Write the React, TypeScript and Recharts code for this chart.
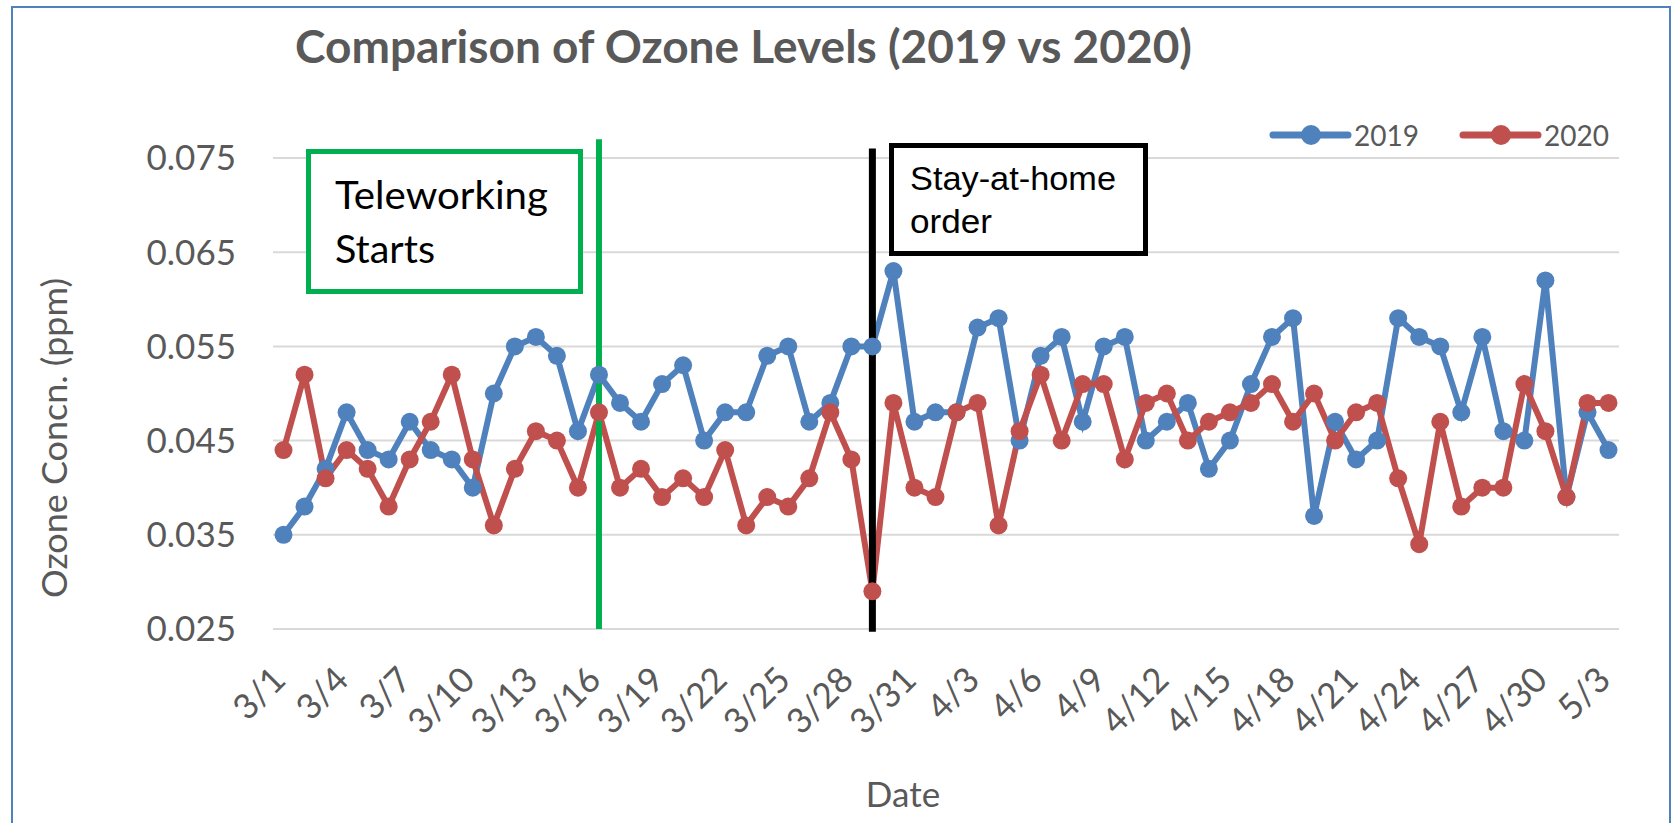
import React from 'react';
import {
  LineChart,
  Line,
  XAxis,
  YAxis,
  CartesianGrid,
  Legend,
  ReferenceLine,
} from 'recharts';

// Days on the category axis (3/1 .. 5/3)
const dates = [
  '3/1', '3/2', '3/3', '3/4', '3/5', '3/6', '3/7', '3/8', '3/9', '3/10',
  '3/11', '3/12', '3/13', '3/14', '3/15', '3/16', '3/17', '3/18', '3/19', '3/20',
  '3/21', '3/22', '3/23', '3/24', '3/25', '3/26', '3/27', '3/28', '3/29', '3/30',
  '3/31', '4/1', '4/2', '4/3', '4/4', '4/5', '4/6', '4/7', '4/8', '4/9',
  '4/10', '4/11', '4/12', '4/13', '4/14', '4/15', '4/16', '4/17', '4/18', '4/19',
  '4/20', '4/21', '4/22', '4/23', '4/24', '4/25', '4/26', '4/27', '4/28', '4/29',
  '4/30', '5/1', '5/2', '5/3',
];

// Ozone concentration (ppm)
const ozone2019 = [
  0.035, 0.038, 0.042, 0.048, 0.044, 0.043, 0.047, 0.044, 0.043, 0.040,
  0.050, 0.055, 0.056, 0.054, 0.046, 0.052, 0.049, 0.047, 0.051, 0.053,
  0.045, 0.048, 0.048, 0.054, 0.055, 0.047, 0.049, 0.055, 0.055, 0.063,
  0.047, 0.048, 0.048, 0.057, 0.058, 0.045, 0.054, 0.056, 0.047, 0.055,
  0.056, 0.045, 0.047, 0.049, 0.042, 0.045, 0.051, 0.056, 0.058, 0.037,
  0.047, 0.043, 0.045, 0.058, 0.056, 0.055, 0.048, 0.056, 0.046, 0.045,
  0.062, 0.039, 0.048, 0.044,
];

const ozone2020 = [
  0.044, 0.052, 0.041, 0.044, 0.042, 0.038, 0.043, 0.047, 0.052, 0.043,
  0.036, 0.042, 0.046, 0.045, 0.040, 0.048, 0.040, 0.042, 0.039, 0.041,
  0.039, 0.044, 0.036, 0.039, 0.038, 0.041, 0.048, 0.043, 0.029, 0.049,
  0.040, 0.039, 0.048, 0.049, 0.036, 0.046, 0.052, 0.045, 0.051, 0.051,
  0.043, 0.049, 0.050, 0.045, 0.047, 0.048, 0.049, 0.051, 0.047, 0.050,
  0.045, 0.048, 0.049, 0.041, 0.034, 0.047, 0.038, 0.040, 0.040, 0.051,
  0.046, 0.039, 0.049, 0.049,
];

const yTicks = [0.025, 0.035, 0.045, 0.055, 0.065, 0.075];

const teleworkDate = '3/16';
const stayHomeDate = '3/29';

const data = dates.map((date, i) => ({
  date,
  y2019: ozone2019[i],
  y2020: ozone2020[i],
}));

const BLUE = '#4F81BD';
const RED = '#C0504D';
const GREEN = '#00B050';
const GRAY_TEXT = '#595959';
const FONT = 'Lato, "Open Sans", sans-serif';

// Rotated date labels, text ends at the tick
const DateTick = (props: any) => {
  const { x, y, payload } = props;
  return (
    <g transform={`translate(${x + 4},${y + 53})`}>
      <text
        transform="rotate(-45)"
        textAnchor="end"
        fontFamily={FONT}
        fontSize={35}
        fill={GRAY_TEXT}
      >
        {payload.value}
      </text>
    </g>
  );
};

const renderLegend = (props: any) => {
  const { payload } = props;
  return (
    <svg width={400} height={50}>
      {(payload || []).map((entry: any, i: number) => {
        const x0 = i * 190;
        return (
          <g key={entry.value}>
            <line
              x1={x0 + 13}
              y1={25}
              x2={x0 + 88}
              y2={25}
              stroke={entry.color}
              strokeWidth={7}
              strokeLinecap="round"
            />
            <circle cx={x0 + 51} cy={25} r={10} fill={entry.color} />
            <text x={x0 + 94} y={35.5} fontFamily={FONT} fontSize={28} fill={GRAY_TEXT}>
              {entry.value}
            </text>
          </g>
        );
      })}
    </svg>
  );
};

const OzoneComparisonChart: React.FC = () => {
  return (
    <div style={{ position: 'relative', width: 1674, height: 823, background: '#fff', overflow: 'hidden' }}>
      <style>{'body{margin:0}'}</style>

      <LineChart
        width={1674}
        height={823}
        data={data}
        margin={{ top: 158, right: 55, left: 0, bottom: 134 }}
      >
        <CartesianGrid horizontal vertical={false} stroke="#D9D9D9" strokeWidth={2} />

        <XAxis
          dataKey="date"
          interval={2}
          axisLine={false}
          tickLine={false}
          tickSize={0}
          tickMargin={0}
          height={60}
          padding={{ left: 10.5, right: 10.5 }}
          tick={<DateTick />}
        />

        <YAxis
          type="number"
          domain={[0.025, 0.075]}
          ticks={yTicks}
          width={273}
          axisLine={false}
          tickLine={false}
          tickSize={0}
          tickMargin={37}
          tickFormatter={(v: number) => v.toFixed(3)}
          tick={{ fontFamily: FONT, fontSize: 35, fill: GRAY_TEXT }}
        />

        <Legend
          layout="horizontal"
          verticalAlign="middle"
          align="center"
          wrapperStyle={{ left: 1260, top: 110, width: 400, height: 50 }}
          content={renderLegend}
        />

        <Line
          type="linear"
          dataKey="y2019"
          name="2019"
          stroke={BLUE}
          strokeWidth={6}
          dot={{ r: 9, fill: BLUE, stroke: BLUE, strokeWidth: 0 }}
          activeDot={false}
          isAnimationActive={false}
        />
        <Line
          type="linear"
          dataKey="y2020"
          name="2020"
          stroke={RED}
          strokeWidth={6}
          dot={{ r: 9, fill: RED, stroke: RED, strokeWidth: 0 }}
          activeDot={false}
          isAnimationActive={false}
        />

        {/* Event markers */}
        <ReferenceLine
          segment={[
            { x: teleworkDate, y: 0.025 },
            { x: teleworkDate, y: 0.077 },
          ]}
          stroke={GREEN}
          strokeWidth={6}
          ifOverflow="visible"
        />
        <ReferenceLine
          segment={[
            { x: stayHomeDate, y: 0.0247 },
            { x: stayHomeDate, y: 0.076 },
          ]}
          stroke="#000"
          strokeWidth={7}
          ifOverflow="visible"
        />
      </LineChart>

      {/* Title, axis titles, annotation boxes and frame */}
      <svg
        width={1674}
        height={823}
        style={{ position: 'absolute', left: 0, top: 0, pointerEvents: 'none' }}
      >
        <rect x={12} y={7} width={1658} height={900} fill="none" stroke="#4F81BD" strokeWidth={2} />

        <text
          x={295}
          y={63}
          fontFamily={FONT}
          fontWeight={700}
          fontSize={46}
          fill={GRAY_TEXT}
          textLength={897}
          lengthAdjust="spacingAndGlyphs"
        >
          Comparison of Ozone Levels (2019 vs 2020)
        </text>

        <text
          transform="translate(67,438) rotate(-90)"
          textAnchor="middle"
          fontFamily={FONT}
          fontSize={35}
          fill={GRAY_TEXT}
          textLength={320}
          lengthAdjust="spacingAndGlyphs"
        >
          Ozone Concn. (ppm)
        </text>

        <text x={903} y={807} textAnchor="middle" fontFamily={FONT} fontSize={35} fill={GRAY_TEXT}>
          Date
        </text>

        <rect x={308.5} y={151.5} width={272} height={140} fill="#fff" stroke={GREEN} strokeWidth={5} />
        <text x={335} y={209} fontFamily={FONT} fontSize={39} fill="#000" textLength={213} lengthAdjust="spacingAndGlyphs">
          Teleworking
        </text>
        <text x={335} y={263} fontFamily={FONT} fontSize={39} fill="#000" textLength={100} lengthAdjust="spacingAndGlyphs">
          Starts
        </text>

        <rect x={891.5} y={145.5} width={254} height={108} fill="#fff" stroke="#000" strokeWidth={5} />
        <text x={910} y={190} fontFamily='"Liberation Sans", Arial, sans-serif' fontSize={34} fill="#000" textLength={206} lengthAdjust="spacingAndGlyphs">
          Stay-at-home
        </text>
        <text x={910} y={233} fontFamily='"Liberation Sans", Arial, sans-serif' fontSize={34} fill="#000" textLength={82} lengthAdjust="spacingAndGlyphs">
          order
        </text>
      </svg>
    </div>
  );
};

export default OzoneComparisonChart;
